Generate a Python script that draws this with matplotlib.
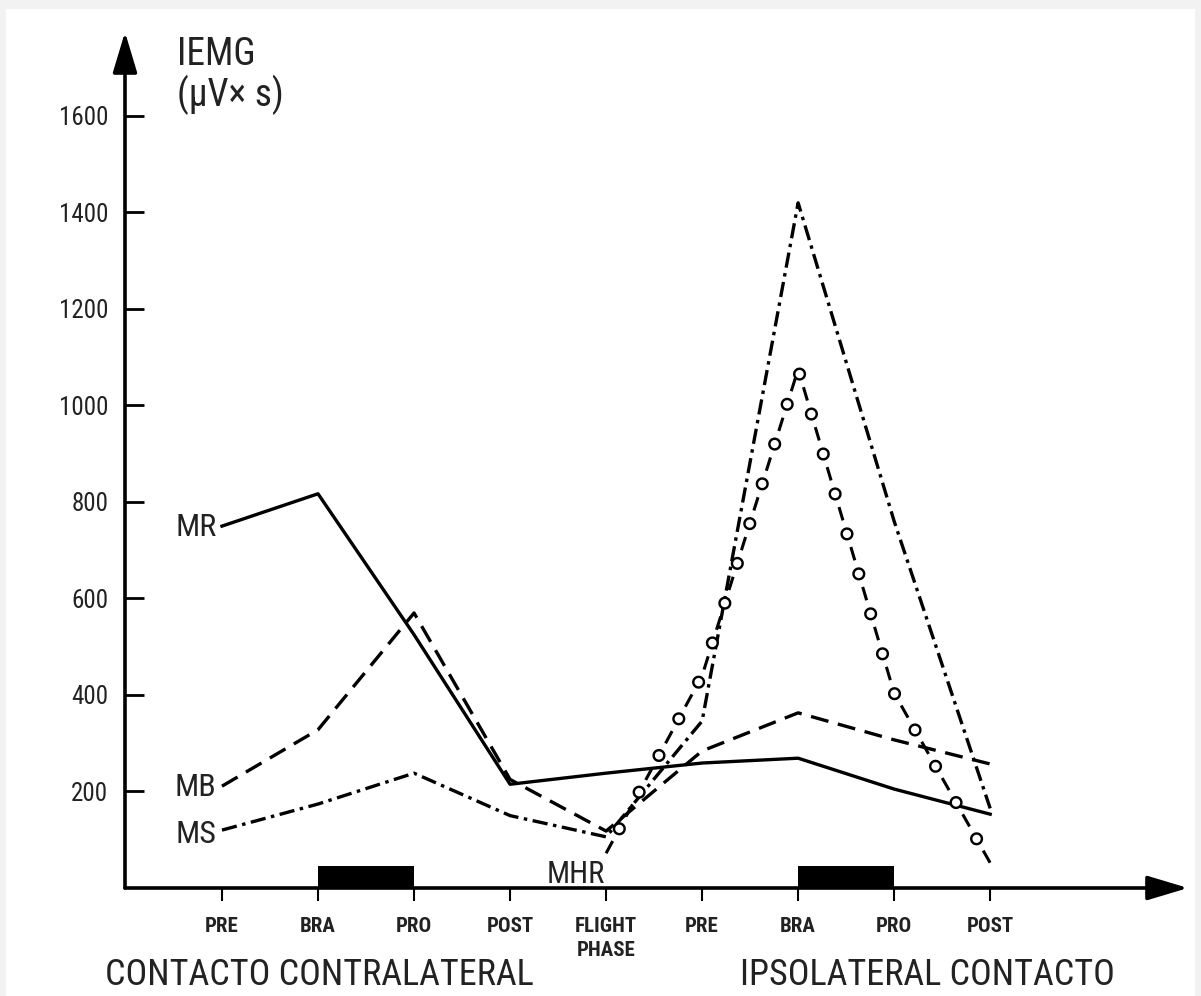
import matplotlib.pyplot as plt
import numpy as np
from matplotlib.patches import Rectangle

plt.rcParams['font.family'] = ['Roboto Condensed', 'Open Sans Condensed', 'DejaVu Sans Condensed',
                               'Liberation Sans Narrow', 'Roboto', 'DejaVu Sans']
plt.rcParams['font.stretch'] = 'condensed'
plt.rcParams['lines.scale_dashes'] = False

# phases of the step, contralateral contact -> flight -> ipsilateral contact
phases = ['PRE', 'BRA', 'PRO', 'POST', 'FLIGHT\nPHASE', 'PRE', 'BRA', 'PRO', 'POST']
y_ticks = [200, 400, 600, 800, 1000, 1200, 1400, 1600]

# IEMG (µV x s) per muscle
mr = [750, 817, 525, 215, 238, 259, 269, 205, 153]
mb = [211, 328, 570, 225, 118, 284, 363, 307, 257]
ms = [120, 174, 238, 150, 106, 346, 1420, 760, 165]
mhr = [np.nan, np.nan, np.nan, np.nan, 72, 440, 1075, 404, 52]

# black blocks on the time axis (BRA -> PRO on both sides)
block_start = [1, 6]
block_height = 46

fig = plt.figure(figsize=(12.01, 9.96), dpi=100, facecolor='#f2f2f2')
fig.add_artist(Rectangle((6 / 1201, 0), 1189 / 1201, 987 / 996, transform=fig.transFigure,
                         facecolor='white', edgecolor='none', zorder=-1))
ax = fig.add_axes([125 / 1201, 108 / 996, 1063 / 1201, 856 / 996])
ax.set_facecolor('none')
ax.set_xlim(-1.01, 10.06)
ax.set_ylim(0, 1774)

# axes drawn as arrows
for s in ax.spines.values():
    s.set_visible(False)
arrow = dict(arrowstyle='-|>,head_length=1.0,head_width=0.3', color='black', lw=2.6,
             mutation_scale=25, shrinkA=0, shrinkB=0)
ax.annotate('', xy=(0, 1), xytext=(0, 0), xycoords='axes fraction', arrowprops=arrow,
            annotation_clip=False)
ax.annotate('', xy=(1, 0), xytext=(0, 0), xycoords='axes fraction', arrowprops=arrow,
            annotation_clip=False)

x = np.arange(len(phases))
ax.set_yticks(y_ticks)
ax.tick_params(axis='y', direction='in', length=14, width=2, pad=12, labelsize=18,
               labelcolor='#222222')
ax.set_xticks(x, phases)
ax.tick_params(axis='x', direction='out', length=9, width=1.5, pad=12, labelsize=15,
               labelcolor='#222222')
for lab in ax.get_xticklabels():
    lab.set_fontweight('bold')
    lab.set_linespacing(1.3)

ax.plot(x, mr, color='black', lw=2.4)
ax.plot(x, mb, color='black', lw=2.4, linestyle=(0, (13, 7)))
ax.plot(x, ms, color='black', lw=2.4, linestyle=(0, (11, 4, 2.5, 4)))
# MHR: short dashes with hollow rings in the gaps
ax.plot(x, mhr, color='black', lw=2.2, linestyle=(0, (10, 20)), zorder=4)
ax.plot(x, mhr, color='black', lw=9.5, linestyle=(10, (0.01, 30)),
        dash_capstyle='round', zorder=4)
ax.plot(x, mhr, color='white', lw=6, linestyle=(10, (0.01, 30)),
        dash_capstyle='round', zorder=4)

ax.bar(block_start, block_height, width=1, align='edge', color='black', zorder=3)

label_kw = dict(textcoords='offset points', ha='right', va='center', fontsize=23,
                color='#222222')
ax.annotate('MR', xy=(x[0], mr[0]), xytext=(-4, -1), **label_kw)
ax.annotate('MB', xy=(x[0], mb[0]), xytext=(-4, -1), **label_kw)
ax.annotate('MS', xy=(x[0], ms[0]), xytext=(-4, -3), **label_kw)
ax.annotate('MHR', xy=(x[4], mhr[4]), xytext=(-22, -15), textcoords='offset points',
            ha='center', va='center', fontsize=22, color='#222222')

fig.text(177 / 1201, 1 - 36 / 996, 'IEMG\n(μV× s)', ha='left', va='top', fontsize=27,
         linespacing=1.05, color='#222222')
fig.text(105 / 1201, 1 - 975 / 996, 'CONTACTO CONTRALATERAL', ha='left', va='center',
         fontsize=26, color='#222222')
fig.text(740 / 1201, 1 - 975 / 996, 'IPSOLATERAL CONTACTO', ha='left', va='center',
         fontsize=26, color='#222222')

fig.savefig('out.png', dpi=100, facecolor=fig.get_facecolor())
